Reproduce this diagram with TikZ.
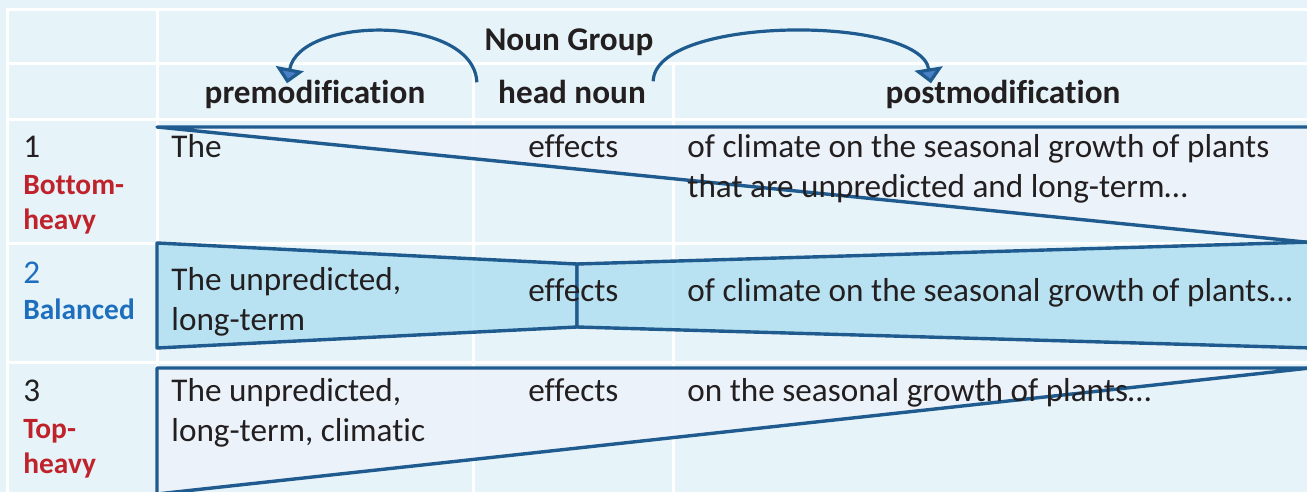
\documentclass[tikz,border=0pt]{standalone}
\usepackage{fontspec}
\setmainfont{Carlito}[Ligatures=NoCommon]
\usetikzlibrary{arrows.meta}

\definecolor{bgblue}{HTML}{E6F4F9}
\definecolor{framed}{HTML}{1F5B8F}
\definecolor{paleband}{HTML}{ECF2FA}
\definecolor{midband}{HTML}{B1E0F1}
\definecolor{tipblue}{HTML}{4A80C6}
\definecolor{heavyred}{HTML}{C0222B}
\definecolor{balblue}{HTML}{1E6EBE}
\definecolor{ink}{HTML}{231F20}

\tikzset{
  cellrule/.style={white, line width=1.5pt},
  bandline/.style={draw=framed, line width=1.7pt, line join=round, fill opacity=0.85},
  txt/.style={anchor=base west, inner sep=0pt, text=ink, font=\fontsize{16.6}{20}\selectfont},
  hdr/.style={anchor=base, inner sep=0pt, text=ink, font=\bfseries\fontsize{16.6}{20}\selectfont},
  kind/.style={anchor=base west, inner sep=0pt, font=\bfseries\fontsize{14.7}{18}\selectfont},
  sweep/.style={draw=framed, line width=1.6pt, -{Triangle[width=14pt,length=7.5pt,fill=tipblue]}}
}

\begin{document}
\begin{tikzpicture}[x=0.5pt,y=-0.5pt]
	\useasboundingbox (0,0) rectangle (1307,492);
	\clip (0,0) rectangle (1307,492);
	\fill[bgblue] (0,0) rectangle (1307,492);

	% table rules
	\draw[cellrule] (7,500) -- (7,10) -- (1320,10);
	\draw[cellrule] (7,64) -- (1320,64);
	\draw[cellrule] (7,120) -- (1320,120);
	\draw[cellrule] (7,243) -- (1320,243);
	\draw[cellrule] (7,362) -- (1320,362);
	\draw[cellrule] (157,10) -- (157,500);
	\draw[cellrule] (473,64) -- (473,500);
	\draw[cellrule] (673,64) -- (673,500);

	% bottom-heavy wedge
	\filldraw[bandline, fill=paleband] (157,127) -- (1330,127) -- (1330,244.5) -- cycle;

	% balanced bow tie
	\filldraw[bandline, fill=midband] (157,243) -- (577,264) -- (577,327) -- (157,348) -- cycle;
	\filldraw[bandline, fill=midband] (577,264) -- (1330,241.5) -- (1330,348.5) -- (577,327) -- cycle;

	% top-heavy wedge
	\filldraw[bandline, fill=paleband] (157,368) -- (1310,368) -- (157,494) -- cycle;

	% headings
	\node[hdr] (group) at (569,51) {Noun Group};
	\node[hdr] (pre) at (315,104) {premodification};
	\node[hdr] (head) at (572,104) {head noun};
	\node[hdr] (post) at (1003,104) {postmodification};

	% row 1
	\node[txt] (num1) at (23,158) {1};
	\node[kind, text=heavyred] (kind1a) at (23,194) {Bottom-};
	\node[kind, text=heavyred] (kind1b) at (23,229) {heavy};
	\node[txt] (pre1) at (171,158) {The};
	\node[txt] (head1) at (528,158) {effects};
	\node[txt] (post1a) at (687,158) {of climate on the seasonal growth of plants};
	\node[txt] (post1b) at (687,198) {that are unpredicted and long-term…};

	% row 2
	\node[txt, text=balblue] (num2) at (23,283) {2};
	\node[kind, text=balblue] (kind2) at (23,319) {Balanced};
	\node[txt] (pre2a) at (171,290) {The unpredicted,};
	\node[txt] (pre2b) at (171,330) {long-term};
	\node[txt] (head2) at (528,301) {effects};
	\node[txt] (post2) at (687,301) {of climate on the seasonal growth of plants…};

	% row 3
	\node[txt] (num3) at (23,401) {3};
	\node[kind, text=heavyred] (kind3a) at (23,438) {Top-};
	\node[kind, text=heavyred] (kind3b) at (23,473) {heavy};
	\node[txt] (pre3a) at (171,401) {The unpredicted,};
	\node[txt] (pre3b) at (171,441) {long-term, climatic};
	\node[txt] (head3) at (528,401) {effects};
	\node[txt] (post3) at (687,401) {on the seasonal growth of plants…};

	% arrows out of the head noun
	\draw[sweep] ([shift={(-21,2)}]head.north west) .. controls (474,15) and (300,15) .. ([shift={(-28,3)}]pre.north);
	\draw[sweep] ([shift={(7,1)}]head.north east) .. controls (655,15) and (920,15) .. ([shift={(-72,3)}]post.north);

\end{tikzpicture}
\end{document}
